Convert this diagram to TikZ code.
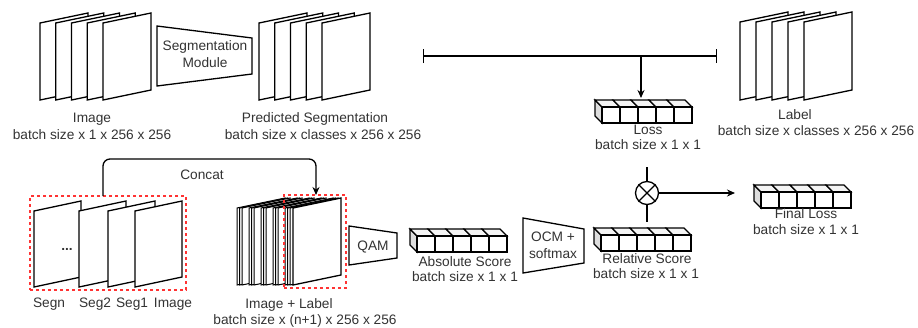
\documentclass[tikz,border=0pt]{standalone}
\usepackage{fontspec}
\setmainfont{Liberation Sans}
\usetikzlibrary{arrows.meta}
\definecolor{dashred}{HTML}{FF3333}
\definecolor{txt}{HTML}{333333}
\definecolor{topfill}{HTML}{F4F4F4}
\definecolor{sidefill}{HTML}{DDDDDD}
\tikzset{
  sheetst/.style={draw=black, fill=white, line width=1.3pt, line join=miter},
  thinsheet/.style={draw=black, fill=white, line width=1pt},
  cubest/.style={draw=black, line width=1.1pt},
  trap/.style={draw=black, fill=white, line width=1.3pt},
  conn/.style={draw=black, line width=1.3pt},
  arr/.style={conn, -{Stealth[length=8pt,width=7pt]}},
  dashbox/.style={draw=dashred, line width=1.5pt, dash pattern=on 3pt off 3pt, inner sep=0pt},
  lbl/.style={font=\fontsize{13.7}{17}\selectfont, text=txt, inner sep=0pt, text height=9.8pt, text depth=0pt},
}
\newcommand\papersheet[6][sheetst]{%
  \draw[#1] (#2,#3) -- ++(#4,-#5) -- ++(0,#6) -- ++(-#4,#5) -- cycle;}
\newcommand\cubearr[2]{%
  \begin{scope}[shift={(#1,#2)}]
    \draw[cubest, fill=sidefill] (0,0) -- (-7,-7) -- (-7,9) -- (0,16) -- cycle;
    \foreach \i in {0,...,4}{
      \draw[cubest, fill=topfill] (18*\i,0) -- (18*\i-7,-7) -- (18*\i+11,-7) -- (18*\i+18,0) -- cycle;}
    \foreach \i in {0,...,4}{
      \draw[cubest, fill=white] (18*\i,0) rectangle (18*\i+18,16);}
  \end{scope}}
\begin{document}
\begin{tikzpicture}[x=1pt, y=-1pt]
\useasboundingbox (0,0) rectangle (918,327);

% ---------- top row ----------
% Image stack
\foreach \xx in {40,55.75,71.5,87.25,103}{\papersheet{\xx}{23}{48}{10}{77}}
\node[lbl] (imgT) at (92,118) {Image};
\node[lbl] (imgB) at (92,135) {batch size x 1 x 256 x 256};

% Segmentation module
\draw[trap] (157,26) -- (252,38) -- (252,74) -- (157,86) -- cycle;
\node[lbl] (segA) at (205,46) {Segmentation};
\node[lbl] (segB) at (205,63) {Module};

% Predicted segmentation stack
\foreach \xx in {259,274.75,290.5,306.25,322}{\papersheet{\xx}{23}{48}{10}{77}}
\node[lbl] (predT) at (315,118) {Predicted Segmentation};
\node[lbl] (predB) at (323,135) {batch size x classes x 256 x 256};

% Label stack
\foreach \xx in {740,756,772,788,804}{\papersheet{\xx}{22}{48}{10}{78}}
\node[lbl] (labT) at (795,115) {Label};
\node[lbl] (labB) at (816,131) {batch size x classes x 256 x 256};

% Loss array
\cubearr{602}{107}
\coordinate (lossTop) at (641,98);
\node[lbl] (lossT) at (648,130) {Loss};
\node[lbl] (lossB) at (648,145) {batch size x 1 x 1};

% comparison line with tees
\coordinate (teeL) at (423,56);
\coordinate (teeR) at (717,56);
\coordinate (teeJ) at (641,56);
\draw[conn, {Bar[width=14pt]}-{Bar[width=14pt]}] (teeL) -- (teeR);
\draw[arr] (teeJ) -- (lossTop);

% ---------- bottom row ----------
% Segn ... Image group
\papersheet{34}{211}{47}{10}{76}
\papersheet{79}{211}{47}{10}{76}
\papersheet{108}{211}{47}{10}{76}
\papersheet{135}{211}{47}{10}{76}
\node[lbl, anchor=base, font=\fontsize{13.7}{17}\selectfont\bfseries] (dots) at (67,250) {...};
\node[dashbox, minimum width=156pt, minimum height=94pt] (grpA) at (108,243) {};
\node[lbl] (sN) at (49,303) {Segn};
\node[lbl] (s2) at (95,303) {Seg2};
\node[lbl] (s1) at (132,303) {Seg1};
\node[lbl] (sI) at (173,303) {Image};

% Image + Label stack
\foreach \k in {0,1,2,3}{
  \foreach \o in {0,2.5,5}{
    \papersheet[thinsheet]{237+12*\k+\o}{208}{48}{10}{77}}}
\foreach \xx in {285,287.5,290}{\papersheet[thinsheet]{\xx}{208}{48}{10}{77}}
\papersheet{293}{208}{48}{10}{77}
\node[dashbox, minimum width=62pt, minimum height=93pt] (grpB) at (315,241.5) {};
\node[lbl] (ilT) at (289,304) {Image + Label};
\node[lbl] (ilB) at (305,320) {batch size x (n+1) x 256 x 256};

% Concat arrow
\coordinate (cStart) at (103,196);
\coordinate (cEnd) at (316,195);
\coordinate (cMid) at (210,159);
\draw[arr, rounded corners=7pt] (cStart) |- (cMid) -| (cEnd);
\node[lbl] (concat) at (202,175) {Concat};

% QAM
\draw[trap] (349,226) -- (397,233) -- (397,258) -- (349,265) -- cycle;
\node[lbl] (qam) at (373,245.5) {QAM};

% Absolute score
\cubearr{417}{236}
\node[lbl] (absT) at (465,262) {Absolute Score};
\node[lbl] (absB) at (465,277) {batch size x 1 x 1};

% OCM + softmax
\draw[trap] (523,218) -- (584,229) -- (584,263) -- (523,273) -- cycle;
\node[lbl] (ocmA) at (553,237) {OCM +};
\node[lbl] (ocmB) at (553,254) {softmax};

% Relative score
\cubearr{601}{235}
\node[lbl] (relT) at (647,259) {Relative Score};
\node[lbl] (relB) at (646,274) {batch size x 1 x 1};

% Multiply
\node[draw, circle, line width=1.3pt, minimum size=23pt, inner sep=0pt] (mul) at (647,193) {};
\draw[conn] (mul.north west) -- (mul.south east);
\draw[conn] (mul.north east) -- (mul.south west);
\coordinate (mulIn) at (647,167);
\coordinate (mulOut) at (647,222);
\coordinate (finIn) at (735,193);
\draw[conn] (mulIn) -- (mul.north);
\draw[conn] (mul.south) -- (mulOut);
\draw[arr] (mul.east) -- (finIn);

% Final loss
\cubearr{761}{192}
\node[lbl] (finT) at (806,214) {Final Loss};
\node[lbl] (finB) at (806,230) {batch size x 1 x 1};
\end{tikzpicture}
\end{document}
